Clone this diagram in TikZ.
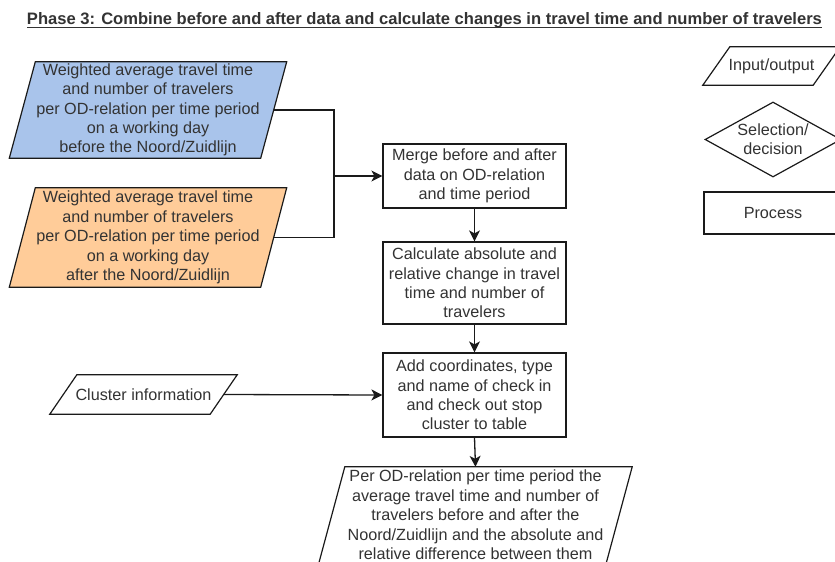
\documentclass[tikz,border=0pt]{standalone}
\usepackage{fontspec}
\setmainfont{Liberation Sans}
\usetikzlibrary{shapes.geometric,arrows.meta,backgrounds}
\definecolor{inkline}{HTML}{1A1A1A}
\definecolor{inktext}{HTML}{333333}
\definecolor{beforefill}{RGB}{169,196,235}
\definecolor{afterfill}{RGB}{255,204,153}
\begin{document}
\begin{tikzpicture}[x=1pt,y=-1pt,
  every node/.style={text=inktext,font=\fontsize{16.2}{19.4}\selectfont,align=center,inner sep=0pt},
  procbox/.style={draw=inkline,line width=1.2pt,fill=white,minimum width=183,rectangle},
  flow/.style={draw=inkline,line width=1.3pt,-{Stealth[length=11pt,width=11pt,inset=3pt]}},
  link/.style={draw=inkline,line width=1.2pt},
  slantline/.style={draw=inkline,line width=1.2pt}]
\clip (0,0) rectangle (835,562);

% heading
\node[anchor=base,font=\bfseries\fontsize{14}{16}\selectfont] (title) at (424.5,24)
  {\resizebox{795pt}{!}{Phase 3: Combine before and after data and calculate changes in travel time and number of travelers}};
\draw[inktext,line width=1pt] (27,27.5) -- (822,27.5);

% input data (parallelograms: text holders, outlines drawn behind)
\node[minimum width=251,minimum height=96] (before) at (148,110)
  {Weighted average travel time\\and number of travelers\\per OD-relation per time period\\on a working day\\before the Noord/Zuidlijn};
\node[minimum width=251,minimum height=99] (after) at (148,237.5)
  {Weighted average travel time\\and number of travelers\\per OD-relation per time period\\on a working day\\after the Noord/Zuidlijn};
\node[minimum width=160,minimum height=39] (cluster) at (143.5,394.5) {Cluster information};

% process steps
\node[procbox,minimum height=64] (merge) at (474.5,176)
  {Merge before and after\\data on OD-relation\\and time period};
\node[procbox,minimum height=82] (calc) at (474.5,283)
  {Calculate absolute and\\relative change in travel\\time and number of\\travelers};
\node[procbox,minimum height=84] (addinfo) at (474.5,395)
  {Add coordinates, type\\and name of check in\\and check out stop\\cluster to table};
\node[minimum width=287,minimum height=96] (result) at (475.5,515)
  {Per OD-relation per time period the\\average travel time and number of\\travelers before and after the\\Noord/Zuidlijn and the absolute and\\relative difference between them};

% legend
\node[minimum width=110,minimum height=38] (legio) at (771.5,66) {Input/output};
\node[draw=inkline,line width=1.2pt,shape=diamond,aspect=1.8,minimum width=136,minimum height=75] (legdec) at (773,139.5) {Selection/\\decision};
\node[procbox,minimum width=138,minimum height=42] (legproc) at (773,213) {Process};

% parallelogram outlines
\begin{scope}[on background layer]
  \fill[white] (0,0) rectangle (835,562);
  \foreach \n/\s/\f in {before/13/beforefill, after/13/afterfill, cluster/13.5/white, result/13/white, legio/13.5/white}{
    \draw[slantline,fill=\f] ([xshift=-\s pt]\n.south west) -- ([xshift=\s pt]\n.north west)
      -- ([xshift=\s pt]\n.north east) -- ([xshift=-\s pt]\n.south east) -- cycle;
  }
\end{scope}

% connectors
\coordinate (join) at (334,176);
\draw[link] (before.east) -| (join) |- (after.east);
\draw[flow] (join) -- (merge.west);
\draw[flow] (merge.south) -- (calc.north);
\draw[flow] (calc.south) -- (addinfo.north);
\draw[flow] (cluster.east) -- (addinfo.west);
\draw[flow] (addinfo.south) -- (result.north);
\end{tikzpicture}
\end{document}
